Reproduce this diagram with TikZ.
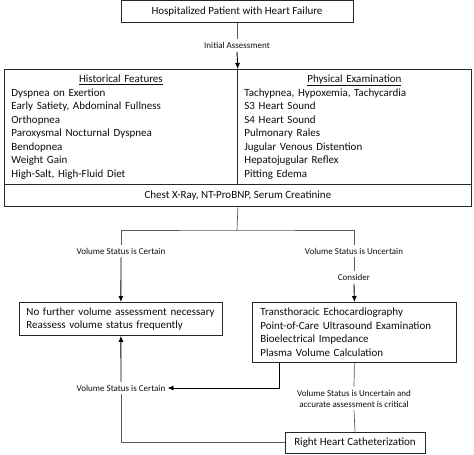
\documentclass[tikz,border=0pt]{standalone}
\usepackage{fontspec}
\setmainfont{Carlito}
\usetikzlibrary{arrows.meta,shadows}
\begin{document}
\begin{tikzpicture}[x=1pt,y=-1pt,%
% common options for boxes:
box/.style = {draw=black!85, line width=0.8pt, fill=white, text=black!95,
            font=\fontsize{11}{13.5}\selectfont,
            drop shadow={shadow xshift=0.8pt, shadow yshift=-0.8pt, opacity=0.35}},
% common options for the labels on the lines:
tag/.style = {align=center, inner xsep=2pt, inner ysep=3pt, text=black!95,
            font=\fontsize{9}{11}\selectfont},
% common options for the lines:
line/.style = {draw=black!65, line width=0.7pt},
arrow/.style = {draw=black, line width=0.9pt, -{Latex[length=6pt,width=5pt]}}]
\useasboundingbox (0,0) rectangle (474,455);
\node[box,minimum width=232pt,minimum height=22pt] (patient) at (237,11.5) {Hospitalized Patient with Heart Failure};
\node[tag] (initial) at (237,45.5) {Initial Assessment};
\node[box,anchor=north west,text width=219pt,inner xsep=7pt,minimum height=115pt,align=left] (history) at (4,69)
  {\hfill\underline{Historical Features}\hfill\null\\
   Dyspnea on Exertion\\
   Early Satiety, Abdominal Fullness\\
   Orthopnea\\
   Paroxysmal Nocturnal Dyspnea\\
   Bendopnea\\
   Weight Gain\\
   High-Salt, High-Fluid Diet};
\node[box,anchor=north west,text width=220pt,inner xsep=7pt,minimum height=115pt,align=left] (exam) at (237,69)
  {\hfill\underline{Physical Examination}\hfill\null\\
   Tachypnea, Hypoxemia, Tachycardia\\
   S3 Heart Sound\\
   S4 Heart Sound\\
   Pulmonary Rales\\
   Jugular Venous Distention\\
   Hepatojugular Reflex\\
   Pitting Edema};
\node[box,anchor=north west,minimum width=467pt,minimum height=22pt] (labs) at (4,184) {Chest X-Ray, NT-ProBNP, Serum Creatinine};
\coordinate (split) at (237,230);
\node[tag] (certain) at (121,251) {Volume Status is Certain};
\node[tag] (uncertain) at (354,251) {Volume Status is Uncertain};
\node[tag] (consider) at (354,277.5) {Consider};
\node[box,anchor=north west,text width=189pt,inner xsep=7pt,minimum height=33pt,align=left] (nofurther) at (19,302)
  {No further volume assessment necessary\\
   Reassess volume status frequently};
\node[box,anchor=north west,text width=188pt,inner xsep=8pt,minimum height=60pt,align=left] (imaging) at (252,302)
  {Transthoracic Echocardiography\\
   Point-of-Care Ultrasound Examination\\
   Bioelectrical Impedance\\
   Plasma Volume Calculation};
\node[tag] (certain2) at (121,388) {Volume Status is Certain};
\node[tag] (critical) at (354,398.5) {Volume Status is Uncertain and\\ accurate assessment is critical};
\node[box,minimum width=140pt,minimum height=21pt] (rhc) at (355,442.5) {Right Heart Catheterization};
\draw[line] (patient.south) -- (initial.north);
\draw[arrow] (initial.south) -- (history.north east);
\draw[line] (labs.south) -- (split);
\draw[line] (certain.north) |- (split) -| (uncertain.north);
\draw[arrow] (certain.south) -- (nofurther.north);
\draw[line] (uncertain.south) -- (consider.north);
\draw[arrow] (consider.south) -- (imaging.north);
\draw[arrow] ([xshift=27pt]imaging.south west) |- (certain2.east);
\draw[arrow] (certain2.north) -- (nofurther.south);
\draw[line] (imaging.south) -- (critical.north);
\draw[line] (critical.south) -- (rhc.north);
\draw[line] (rhc.west) -| (certain2.south);
\end{tikzpicture}
\end{document}
